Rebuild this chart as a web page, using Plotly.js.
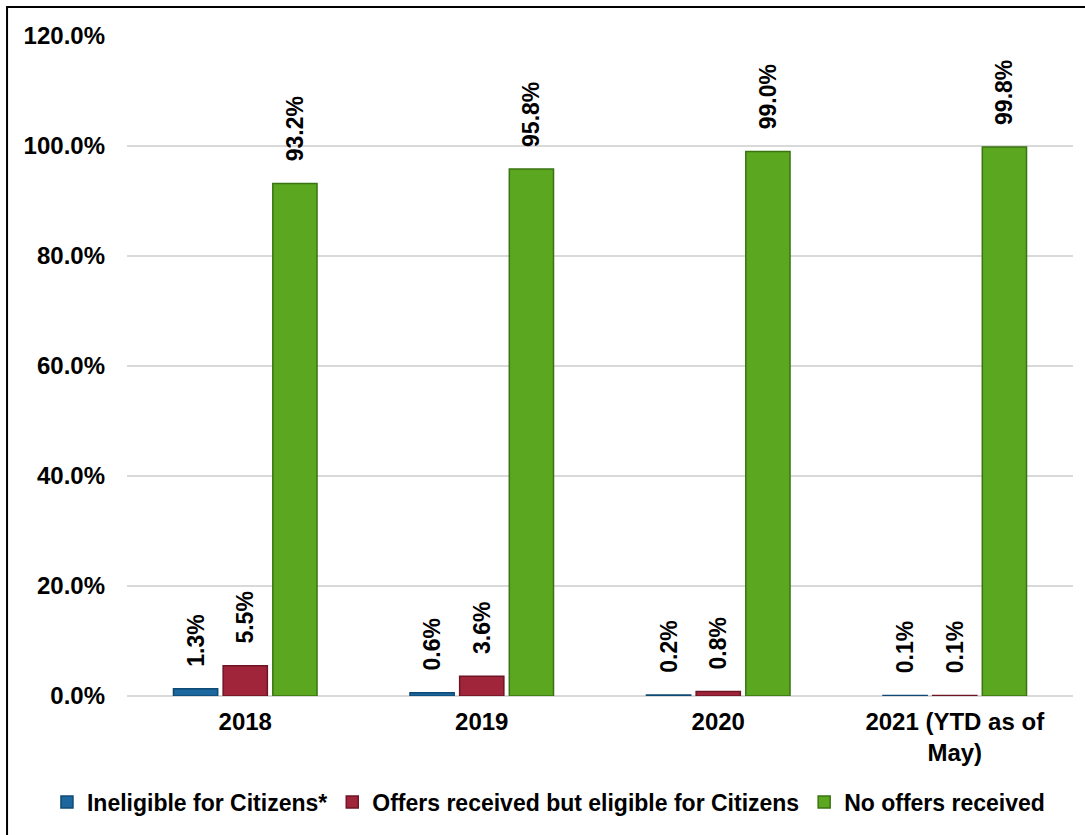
<!DOCTYPE html>
<html>
<head>
<meta charset="utf-8">
<script src="https://cdn.plot.ly/plotly-3.0.1.min.js"></script>
<style>
html,body{margin:0;padding:0;background:#fff;}
#chart{width:1085px;height:835px;}
</style>
</head>
<body>
<div id="chart"></div>
<script>
const categories = ["2018", "2019", "2020", "2021 (YTD as of<br>May)"];
const seriesNames = ["Ineligible for Citizens*", "Offers received but eligible for Citizens", "No offers received"];
const ineligible = [1.3, 0.6, 0.2, 0.1];
const offersEligible = [5.5, 3.6, 0.8, 0.1];
const noOffers = [93.2, 95.8, 99.0, 99.8];
const yTickValues = [0, 20, 40, 60, 80, 100, 120];

const colors = ["#1b679e", "#a0253b", "#5ca720"];
const lineColors = ["#0f4a75", "#6e1524", "#3a7312"];
const FONT = "Arial, 'Liberation Sans', sans-serif";

const seriesValues = [ineligible, offersEligible, noOffers];
const traces = seriesValues.map((vals, i) => ({
  type: "bar",
  name: seriesNames[i],
  x: categories,
  y: vals,
  marker: {color: colors[i], line: {color: lineColors[i], width: 1.5}},
  text: vals.map(v => v.toFixed(1) + "%"),
  texttemplate: "\u00a0\u00a0\u00a0%{text}",
  textposition: "outside",
  textangle: -90,
  constraintext: "none",
  cliponaxis: false,
  textfont: {family: FONT, size: 23, color: "#000", weight: "bold"},
  hoverinfo: "skip"
}));

const layout = {
  width: 1085,
  height: 835,
  paper_bgcolor: "#fff",
  plot_bgcolor: "#fff",
  margin: {l: 127, r: 12, t: 36, b: 139},
  barmode: "group",
  bargap: 0.37,
  bargroupgap: 0.11,
  showlegend: true,
  legend: {
    orientation: "h",
    x: -0.0846, xanchor: "left",
    y: -0.1606, yanchor: "middle",
    font: {family: FONT, size: 23, color: "#000", weight: "bold"},
    traceorder: "normal",
    tracegroupgap: 0
  },
  font: {family: FONT, color: "#000"},
  xaxis: {
    type: "category",
    tickfont: {family: FONT, size: 24, color: "#000", weight: "bold"},
    showgrid: false,
    zeroline: false,
    showline: false,
    ticks: "",
    ticklabelstandoff: 9
  },
  yaxis: {
    range: [0, 120],
    tickvals: yTickValues,
    ticktext: yTickValues.map(v => v.toFixed(1) + "%"),
    tickfont: {family: FONT, size: 24, color: "#000", weight: "bold"},
    showgrid: true,
    gridcolor: "#d9d9d9",
    gridwidth: 2,
    zeroline: true,
    zerolinecolor: "#d9d9d9",
    zerolinewidth: 2,
    showline: false,
    ticks: "",
    ticklabelstandoff: 21
  },
  shapes: [{
    type: "rect", xref: "paper", yref: "paper",
    x0: -0.1268, x1: 1.05, y0: -0.4, y1: 1.044,
    line: {color: "#000", width: 2}, fillcolor: "rgba(0,0,0,0)", layer: "above"
  }],
  hovermode: false
};

Plotly.newPlot("chart", traces, layout, {displayModeBar: false, staticPlot: true});
</script>
</body>
</html>
